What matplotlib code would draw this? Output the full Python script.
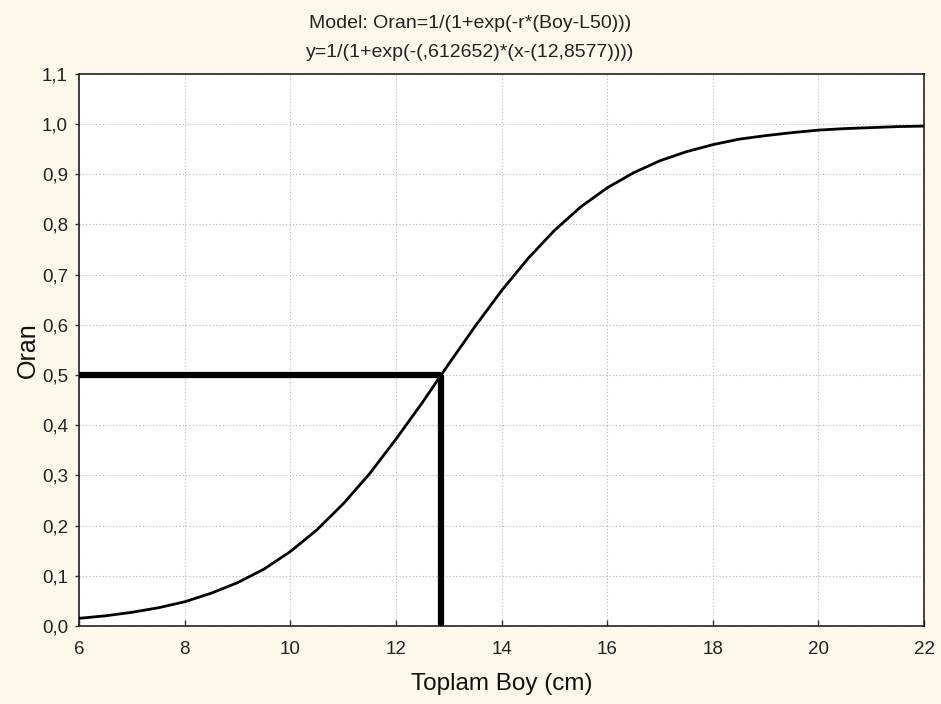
import matplotlib
matplotlib.use("Agg")
import matplotlib.pyplot as plt

plt.rcParams['font.family'] = ['Liberation Sans', 'DejaVu Sans']

# Curve values (Toplam Boy vs Oran)
boy = [6, 6.5, 7, 7.5, 8, 8.5, 9, 9.5, 10, 10.5, 11, 11.5, 12, 12.5, 13, 13.5,
       14, 14.5, 15, 15.5, 16, 16.5, 17, 17.5, 18, 18.5, 19, 19.5, 20, 20.5,
       21, 21.5, 22]
oran = [0.015, 0.020, 0.027, 0.036, 0.048, 0.065, 0.086, 0.113, 0.148, 0.191,
        0.243, 0.303, 0.372, 0.445, 0.522, 0.597, 0.668, 0.732, 0.788, 0.835,
        0.873, 0.903, 0.927, 0.945, 0.959, 0.970, 0.977, 0.983, 0.988, 0.991,
        0.993, 0.995, 0.996]
L50 = 12.8577
p50 = 0.5

xticks = [6, 8, 10, 12, 14, 16, 18, 20, 22]
yticks = [0.0, 0.1, 0.2, 0.3, 0.4, 0.5, 0.6, 0.7, 0.8, 0.9, 1.0, 1.1]
ytick_labels = [f"{v:.1f}".replace('.', ',') for v in yticks]

title1 = "Model: Oran=1/(1+exp(-r*(Boy-L50)))"
title2 = "y=1/(1+exp(-(,612652)*(x-(12,8577))))"

bg = '#fdf8eb'
fig = plt.figure(figsize=(9.41, 7.04), dpi=100, facecolor=bg)
ax = fig.add_axes([0.084, 0.111, 0.898, 0.784])
ax.set_facecolor('white')

ax.plot(boy, oran, color='black', lw=2.0, zorder=3)
ax.plot([6, L50], [p50, p50], color='black', lw=4.5, solid_capstyle='butt', zorder=4)
ax.plot([L50, L50], [0, p50], color='black', lw=4.5, solid_capstyle='butt', zorder=4)

ax.set_xlim(6, 22)
ax.set_ylim(0, 1.1)
ax.set_xticks(xticks)
ax.set_xticklabels([str(v) for v in xticks])
ax.set_yticks(yticks)
ax.set_yticklabels(ytick_labels)
ax.tick_params(axis='x', labelsize=13.5, length=4, width=1, direction='in', pad=11,
               color='#333333', labelcolor='#222222')
ax.tick_params(axis='y', labelsize=13.5, length=3, width=1, direction='out', pad=5,
               color='#333333', labelcolor='#222222')
ax.grid(True, color='#b5b5b5', linestyle=(0, (1, 2)), linewidth=0.8)
ax.set_axisbelow(True)
for s in ax.spines.values():
    s.set_linewidth(1.2)
    s.set_color('#222222')

ax.set_xlabel("Toplam Boy (cm)", fontsize=17.5, labelpad=11, color='#111111')
ax.set_ylabel("Oran", fontsize=18, labelpad=1.5, color='#111111')

fig.text(0.5, 0.960, title1, ha='center', va='baseline', fontsize=14, color='#222222')
fig.text(0.5, 0.919, title2, ha='center', va='baseline', fontsize=14, color='#222222')

fig.savefig("out.png", dpi=100, facecolor=bg)
